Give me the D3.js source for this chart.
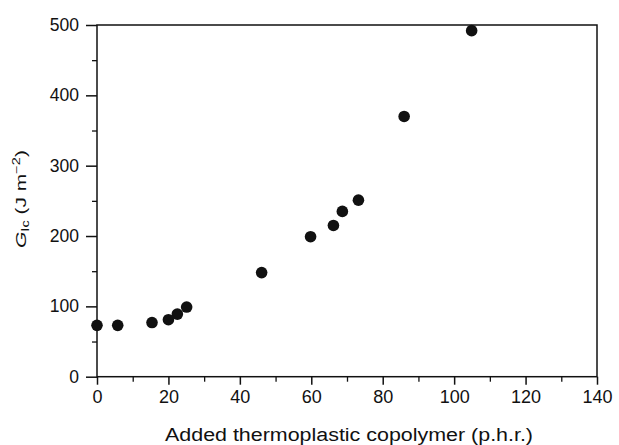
<!DOCTYPE html>
<html><head><meta charset="utf-8">
<script src="https://cdn.jsdelivr.net/npm/d3@7"></script>
<style>body{margin:0;background:#fff}svg{display:block}text{font-family:"Liberation Sans",Arial,sans-serif;fill:#111}</style>
</head><body>
<script>
const xValues = [0, 5.8, 15.4, 20, 22.5, 25.1, 46.1, 59.8, 66.2, 68.7, 73.2, 86, 104.9];
const yValues = [73, 73, 77, 81, 89, 99, 148, 199, 215, 235, 251, 370, 492];
const xTicks = [0, 20, 40, 60, 80, 100, 120, 140];
const yTicks = [0, 100, 200, 300, 400, 500];
const xMinor = [10, 30, 50, 70, 90, 110, 130];
const yMinor = [50, 150, 250, 350, 450];
const xTitle = "Added thermoplastic copolymer (p.h.r.)";

const W = 619, H = 445;
const L = 97, R = 597, T = 25, B = 376.7;
const svg = d3.select("body").append("svg").attr("width", W).attr("height", H);
const x = d3.scaleLinear().domain([0, 140]).range([L, R]);
const y = d3.scaleLinear().domain([0, 500]).range([B, T]);
const ink = "#111";

// frame
svg.append("rect").attr("x", L).attr("y", T).attr("width", R - L).attr("height", B - T)
  .attr("fill", "none").attr("stroke", ink).attr("stroke-width", 1.5);

// x axis
const gx = svg.append("g").attr("transform", `translate(0,${B})`)
  .call(d3.axisBottom(x).tickValues(xTicks).tickSize(8).tickPadding(6).tickFormat(d3.format("d")));
gx.select(".domain").remove();
gx.selectAll("line").attr("stroke", ink).attr("stroke-width", 1.5);
gx.selectAll("text").attr("font-size", 18).attr("fill", ink).attr("font-family", null);
svg.append("g").attr("transform", `translate(0,${B})`)
  .call(d3.axisBottom(x).tickValues(xMinor).tickSize(5).tickFormat(""))
  .call(g => { g.select(".domain").remove(); g.selectAll("line").attr("stroke", ink).attr("stroke-width", 1.3); });

// y axis
const gy = svg.append("g").attr("transform", `translate(${L},0)`)
  .call(d3.axisLeft(y).tickValues(yTicks).tickSize(11).tickPadding(7).tickFormat(d3.format("d")));
gy.select(".domain").remove();
gy.selectAll("line").attr("stroke", ink).attr("stroke-width", 1.5);
gy.selectAll("text").attr("font-size", 17.5).attr("fill", ink).attr("font-family", null);
svg.append("g").attr("transform", `translate(${L},0)`)
  .call(d3.axisLeft(y).tickValues(yMinor).tickSize(5).tickFormat(""))
  .call(g => { g.select(".domain").remove(); g.selectAll("line").attr("stroke", ink).attr("stroke-width", 1.3); });

// points
svg.append("g").selectAll("circle").data(xValues.map((v, i) => [v, yValues[i]])).join("circle")
  .attr("cx", d => x(d[0])).attr("cy", d => y(d[1])).attr("r", 5.8).attr("fill", ink);

// x title
svg.append("text").attr("x", 349).attr("y", 441).attr("text-anchor", "middle")
  .attr("font-size", 18).attr("textLength", 368).attr("lengthAdjust", "spacingAndGlyphs").text(xTitle);

// y title
const yl = svg.append("g").attr("transform", "translate(25.5,199) rotate(-90)");
const inner = yl.append("g");
const t = inner.append("text").attr("font-size", 14.5);
t.append("tspan").attr("font-style", "italic").text("G");
t.append("tspan").attr("font-size", 10).attr("dy", 3).text("Ic");
t.append("tspan").attr("dy", -3).text(" (J m");
t.append("tspan").attr("font-size", 10).attr("dy", -6).text("\u22122");
t.append("tspan").attr("dy", 6).text(")");
const bb = t.node().getBBox();
const s = 98 / bb.width;
inner.attr("transform", `scale(${s},1) translate(${-bb.x - bb.width / 2},0)`);
</script>
</body></html>
